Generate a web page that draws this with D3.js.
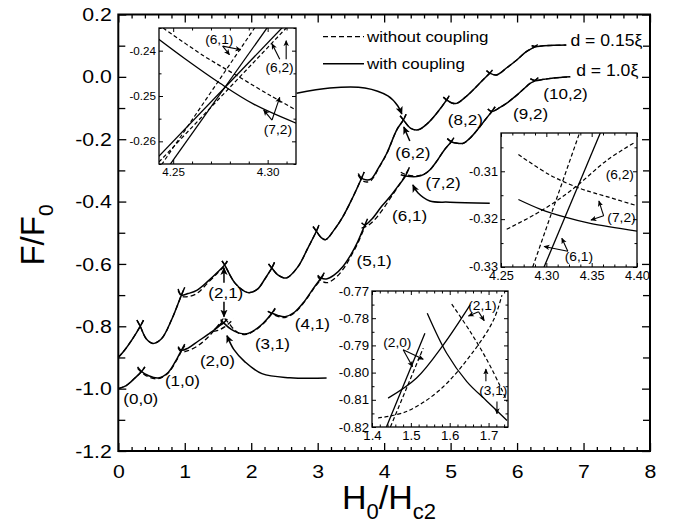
<!DOCTYPE html>
<html><head><meta charset="utf-8">
<script src="https://cdn.jsdelivr.net/npm/d3@7"></script>
<style>
body{margin:0;background:#fff;}
svg text{font-family:"Liberation Sans",Arial,Helvetica,sans-serif;fill:#000;}
</style></head>
<body><svg id="chart" width="673" height="525"></svg>
<script>
// ---------- main panel: free energy F/F0 versus H0/Hc2 ----------
const xTicks = [0, 1, 2, 3, 4, 5, 6, 7, 8];
const yTicks = [0.2, 0.0, -0.2, -0.4, -0.6, -0.8, -1.0, -1.2];

// d = 0.15 xi, with coupling: one array per vortex-state branch
const thinWith = [
  [[0,-0.9],[0.1,-0.875],[0.2,-0.845],[0.33,-0.80],[0.38,-0.78]],
  [[0.28,-0.78],[0.33,-0.80],[0.42,-0.84],[0.52,-0.855],[0.65,-0.84],[0.8,-0.78],[0.95,-0.70],[1.0,-0.675]],
  [[0.9,-0.68],[0.95,-0.70],[1.05,-0.695],[1.18,-0.685],[1.35,-0.655],[1.5,-0.625],[1.6,-0.603],[1.64,-0.59]],
  [[1.56,-0.59],[1.6,-0.603],[1.75,-0.66],[1.9,-0.688],[1.98,-0.692],[2.1,-0.68],[2.2,-0.65],[2.31,-0.613],[2.35,-0.595]],
  [[2.26,-0.60],[2.31,-0.613],[2.4,-0.635],[2.53,-0.645],[2.7,-0.61],[2.85,-0.55],[2.98,-0.495],[3.02,-0.475]],
  [[2.93,-0.48],[2.98,-0.495],[3.05,-0.515],[3.12,-0.522],[3.25,-0.49],[3.38,-0.448],[3.52,-0.39],[3.66,-0.325],[3.7,-0.305]],
  [[3.61,-0.31],[3.66,-0.325],[3.72,-0.33],[3.8,-0.328],[3.92,-0.29],[4.04,-0.245],[4.19,-0.17],[4.29,-0.138],[4.33,-0.12]],
  [[4.24,-0.125],[4.29,-0.138],[4.4,-0.165],[4.51,-0.17],[4.65,-0.15],[4.79,-0.117],[4.94,-0.074],[4.98,-0.06]],
  [[4.89,-0.065],[4.94,-0.074],[5.02,-0.084],[5.09,-0.085],[5.25,-0.06],[5.39,-0.031],[5.5,-0.007],[5.59,0.012],[5.63,0.022]],
  [[5.54,0.02],[5.59,0.012],[5.69,0.006],[5.85,0.03],[6.0,0.055],[6.14,0.081],[6.27,0.097],[6.31,0.104]],
  [[6.22,0.10],[6.27,0.097],[6.4,0.10],[6.55,0.101],[6.74,0.102]]
];
// d = 0.15 xi, without coupling
const thinWithout = [
  [[0,-0.9],[0.1,-0.875],[0.2,-0.845],[0.33,-0.80],[0.38,-0.78]],
  [[0.28,-0.78],[0.33,-0.80],[0.42,-0.84],[0.52,-0.855],[0.65,-0.84],[0.8,-0.78],[0.95,-0.70],[1.0,-0.675]],
  [[0.9,-0.685],[0.95,-0.703],[1.05,-0.705],[1.18,-0.695],[1.35,-0.66],[1.5,-0.628],[1.6,-0.605],[1.64,-0.592]],
  [[1.56,-0.59],[1.6,-0.603],[1.75,-0.66],[1.9,-0.688],[1.98,-0.692],[2.1,-0.68],[2.2,-0.65],[2.31,-0.613],[2.35,-0.595]],
  [[2.26,-0.60],[2.31,-0.613],[2.4,-0.635],[2.53,-0.645],[2.7,-0.61],[2.85,-0.55],[2.98,-0.495],[3.02,-0.475]],
  [[2.93,-0.48],[2.98,-0.495],[3.05,-0.515],[3.12,-0.522],[3.25,-0.49],[3.38,-0.448],[3.52,-0.39],[3.66,-0.325],[3.7,-0.305]],
  [[3.61,-0.315],[3.66,-0.33],[3.72,-0.337],[3.8,-0.333],[3.92,-0.292],[4.04,-0.246],[4.19,-0.17],[4.29,-0.138],[4.33,-0.12]],
  [[4.24,-0.125],[4.29,-0.138],[4.4,-0.165],[4.51,-0.17],[4.65,-0.15],[4.79,-0.117],[4.94,-0.074],[4.98,-0.06]],
  [[4.89,-0.065],[4.94,-0.074],[5.02,-0.084],[5.09,-0.085],[5.25,-0.06],[5.39,-0.031],[5.5,-0.007],[5.59,0.012],[5.63,0.022]],
  [[5.54,0.02],[5.59,0.012],[5.69,0.006],[5.85,0.03],[6.0,0.055],[6.14,0.081],[6.27,0.097],[6.31,0.104]],
  [[6.22,0.10],[6.27,0.097],[6.4,0.10],[6.55,0.101],[6.74,0.102]]
];
// d = 1.0 xi, with coupling
const thickWith = [
  [[0,-1.0],[0.12,-0.99],[0.25,-0.966],[0.35,-0.945],[0.4,-0.93]],
  [[0.29,-0.93],[0.35,-0.945],[0.45,-0.958],[0.6,-0.966],[0.75,-0.948],[0.88,-0.905],[0.95,-0.877],[1.0,-0.857]],
  [[0.9,-0.865],[0.95,-0.877],[1.05,-0.87],[1.2,-0.848],[1.35,-0.826],[1.51,-0.80],[1.56,-0.787]],
  [[1.45,-0.81],[1.51,-0.80],[1.585,-0.789],[1.64,-0.777]],
  [[1.54,-0.778],[1.585,-0.789],[1.7,-0.81],[1.82,-0.822],[1.93,-0.824],[2.05,-0.812],[2.18,-0.79],[2.31,-0.758],[2.36,-0.742]],
  [[2.25,-0.752],[2.31,-0.758],[2.4,-0.765],[2.51,-0.769],[2.65,-0.755],[2.8,-0.72],[2.93,-0.68],[3.05,-0.645],[3.1,-0.628]],
  [[3.0,-0.636],[3.05,-0.645],[3.13,-0.648],[3.25,-0.635],[3.38,-0.608],[3.5,-0.57],[3.6,-0.53],[3.71,-0.475],[3.75,-0.455]],
  [[3.66,-0.468],[3.71,-0.475],[3.82,-0.455],[3.96,-0.416],[4.09,-0.384],[4.2,-0.353],[4.32,-0.318],[4.38,-0.29]],
  [[4.25,-0.314],[4.32,-0.318],[4.49,-0.32],[4.6,-0.313],[4.69,-0.298],[4.8,-0.268],[4.9,-0.236],[5.01,-0.208],[5.05,-0.195]],
  [[4.95,-0.198],[5.01,-0.208],[5.1,-0.213],[5.19,-0.213],[5.3,-0.195],[5.44,-0.16],[5.53,-0.135],[5.62,-0.111],[5.67,-0.096]],
  [[5.56,-0.103],[5.62,-0.111],[5.75,-0.097],[5.84,-0.085],[6.0,-0.058],[6.12,-0.035],[6.19,-0.022],[6.27,-0.012],[6.32,-0.002]],
  [[6.2,-0.006],[6.27,-0.012],[6.4,-0.008],[6.55,-0.004],[6.8,0.0]]
];
// d = 1.0 xi, without coupling
const thickWithout = [
  [[0,-1.0],[0.12,-0.99],[0.25,-0.966],[0.35,-0.945],[0.4,-0.93]],
  [[0.29,-0.935],[0.35,-0.948],[0.45,-0.962],[0.6,-0.968],[0.75,-0.95],[0.88,-0.908],[0.95,-0.88],[1.0,-0.862]],
  [[0.9,-0.87],[0.95,-0.882],[1.05,-0.878],[1.2,-0.862],[1.35,-0.835],[1.53,-0.79],[1.58,-0.775]],
  [[1.43,-0.816],[1.5,-0.813],[1.6,-0.802],[1.68,-0.788],[1.73,-0.776]],
  [[1.6,-0.775],[1.67,-0.792],[1.75,-0.812],[1.82,-0.823],[1.93,-0.826],[2.05,-0.814],[2.18,-0.792],[2.31,-0.76],[2.36,-0.744]],
  [[2.25,-0.752],[2.31,-0.76],[2.4,-0.768],[2.51,-0.772],[2.65,-0.757],[2.8,-0.722],[2.93,-0.682],[3.05,-0.648],[3.1,-0.63]],
  [[3.0,-0.64],[3.06,-0.655],[3.15,-0.66],[3.28,-0.642],[3.4,-0.612],[3.5,-0.575],[3.6,-0.535],[3.71,-0.48],[3.75,-0.46]],
  [[3.66,-0.485],[3.75,-0.478],[3.85,-0.46],[3.98,-0.425],[4.09,-0.39],[4.2,-0.355],[4.3,-0.322],[4.36,-0.298]],
  [[4.25,-0.306],[4.32,-0.313],[4.49,-0.318],[4.6,-0.312],[4.69,-0.298],[4.8,-0.268],[4.9,-0.236],[5.01,-0.208],[5.05,-0.195]],
  [[4.95,-0.198],[5.01,-0.208],[5.1,-0.213],[5.19,-0.213],[5.3,-0.195],[5.44,-0.16],[5.53,-0.135],[5.62,-0.111],[5.67,-0.096]],
  [[5.56,-0.103],[5.62,-0.111],[5.75,-0.097],[5.84,-0.085],[6.0,-0.058],[6.12,-0.035],[6.19,-0.022],[6.27,-0.012],[6.32,-0.002]],
  [[6.2,-0.006],[6.27,-0.012],[6.4,-0.008],[6.55,-0.004],[6.8,0.0]]
];

// state labels (L,N) and curve tags, placed in data units
const stateLabels = [
  {t:"(0,0)", x:0.338, y:-1.032}, {t:"(1,0)", x:0.965, y:-0.974},
  {t:"(2,0)", x:1.492, y:-0.910}, {t:"(2,1)", x:1.617, y:-0.691},
  {t:"(3,1)", x:2.319, y:-0.856}, {t:"(4,1)", x:2.920, y:-0.792},
  {t:"(5,1)", x:3.848, y:-0.589}, {t:"(6,1)", x:4.382, y:-0.445},
  {t:"(7,2)", x:4.887, y:-0.3385}, {t:"(6,2)", x:4.432, y:-0.2423},
  {t:"(8,2)", x:5.221, y:-0.1356}, {t:"(9,2)", x:6.203, y:-0.1167},
  {t:"(10,2)", x:6.729, y:-0.0526}
];
const curveTags = [{t:"d = 0.15ξ", x:7.344, y:0.118}, {t:"d = 1.0ξ", x:7.356, y:0.0196}];
const legendItems = [{t:"without coupling", dashed:true}, {t:"with coupling", dashed:false}];

// annotation arrows (main data units)
const mainArrows = [
  {pts:[[2.683,-0.0526],[3.183,-0.0356],[3.71,-0.0356],[4.056,-0.0612],[4.206,-0.0933],[4.266,-0.119]]},
  {pts:[[5.589,-0.405],[4.988,-0.402],[4.687,-0.398],[4.507,-0.372],[4.432,-0.3465]]},
  {pts:[[3.134,-0.966],[2.582,-0.965],[2.161,-0.952],[1.905,-0.914],[1.74,-0.875],[1.635,-0.83]]},
  {pts:[[4.386,-0.2055],[4.296,-0.1606]]},
  {pts:[[1.59,-0.6606],[1.59,-0.6125]]},
  {pts:[[1.59,-0.7215],[1.59,-0.7696]]}
];

// ---------- insets: zoomed views around the crossings ----------
const insetA = {
  frame:[159,296,28,164], xd:[4.2425,4.315], yd:[-0.265,-0.235],
  xt:[4.25,4.30], yt:[-0.24,-0.25,-0.26], xm:0.01, ym:0.005, xf:2, yf:2, fs:11,
  withC:[
    [[4.2424,-0.2375],[4.2566,-0.2419],[4.2748,-0.2472],[4.2926,-0.2518],[4.3151,-0.2560]],
    [[4.2482,-0.2652],[4.3000,-0.2348]],
    [[4.2424,-0.2633],[4.3080,-0.2348]]
  ],
  withoutC:[
    [[4.2447,-0.2350],[4.266,-0.2411],[4.2837,-0.2455],[4.3014,-0.2499],[4.3151,-0.2531]],
    [[4.2438,-0.2652],[4.2934,-0.2348]],
    [[4.2424,-0.2646],[4.3103,-0.2348]]
  ],
  labels:[{t:"(6,1)",x:4.2744,y:-0.2376},{t:"(6,2)",x:4.3063,y:-0.2437},{t:"(7,2)",x:4.3054,y:-0.2575}],
  arrows:[
    [[4.2762,-0.2390],[4.2798,-0.2409]],[[4.2762,-0.2390],[4.2858,-0.2398]],
    [[4.3064,-0.2419],[4.3023,-0.2385]],[[4.3098,-0.2419],[4.3098,-0.2378]],
    [[4.3023,-0.2553],[4.2979,-0.2531]],[[4.3023,-0.2553],[4.3064,-0.2503]]
  ]
};
const insetB = {
  frame:[501,637,133,267], xd:[4.25,4.40], yd:[-0.33,-0.302],
  xt:[4.25,4.30,4.35,4.40], yt:[-0.31,-0.32,-0.33], xm:0.0125, ym:0.005, xf:2, yf:2, fs:12,
  withC:[
    [[4.2692,-0.3159],[4.2931,-0.3179],[4.3208,-0.3196],[4.3484,-0.3209],[4.40,-0.3225]],
    [[4.2975,-0.33],[4.3595,-0.302]]
  ],
  withoutC:[
    [[4.2692,-0.3065],[4.3042,-0.3108],[4.3374,-0.3136],[4.3668,-0.3153],[4.40,-0.3172]],
    [[4.2563,-0.3221],[4.2931,-0.3184],[4.33,-0.3136],[4.3668,-0.3077],[4.3963,-0.3041]],
    [[4.285,-0.33],[4.3366,-0.302]]
  ],
  labels:[{t:"(6,2)",x:4.381,y:-0.3108},{t:"(7,2)",x:4.3829,y:-0.3197},{t:"(6,1)",x:4.3359,y:-0.3278}],
  arrows:[
    [[4.3632,-0.3193],[4.358,-0.3162]],[[4.3632,-0.3193],[4.3492,-0.3202]],
    [[4.3237,-0.3267],[4.2975,-0.3257]],[[4.3237,-0.3267],[4.3171,-0.324]]
  ]
};
const insetC = {
  frame:[372,508,291,427], xd:[1.4,1.75], yd:[-0.82,-0.77],
  xt:[1.4,1.5,1.6,1.7], yt:[-0.77,-0.78,-0.79,-0.80,-0.81,-0.82], xm:0.02, ym:0.005, xf:1, yf:2, fs:12.5,
  withC:[
    [[1.5422,-0.7782],[1.5922,-0.7929],[1.644,-0.8033],[1.6957,-0.8105],[1.7474,-0.8176]],
    [[1.4414,-0.8094],[1.5147,-0.8020],[1.5836,-0.7898],[1.6526,-0.7751]],
    [[1.4371,-0.82],[1.5362,-0.7855]]
  ],
  withoutC:[
    [[1.6052,-0.7748],[1.6526,-0.7849],[1.6957,-0.7953],[1.7302,-0.8051],[1.7474,-0.8106]],
    [[1.4155,-0.8167],[1.4888,-0.8143],[1.575,-0.8063],[1.6612,-0.7922],[1.713,-0.7806],[1.7345,-0.7715]],
    [[1.4474,-0.82],[1.5319,-0.791]]
  ],
  labels:[{t:"(2,0)",x:1.4651,y:-0.7889},{t:"(2,1)",x:1.684,y:-0.7754},{t:"(3,1)",x:1.7121,y:-0.8066}],
  arrows:[
    [[1.4802,-0.7916],[1.5043,-0.7978]],[[1.4802,-0.7916],[1.5319,-0.7951]],
    [[1.6741,-0.7776],[1.6483,-0.7792]],[[1.6741,-0.7776],[1.6888,-0.7809]],
    [[1.6931,-0.8032],[1.6931,-0.7987]],[[1.7216,-0.8106],[1.7216,-0.8151]]
  ]
};

// ---------- drawing ----------
const svg = d3.select("#chart");
const X = d3.scaleLinear().domain([0, 8]).range([118.3, 650]);
const Y = d3.scaleLinear().domain([-1.2, 0.2]).range([451, 14.5]);
const SX = 1.12; // horizontal widening of the typeface

const defs = svg.append("defs");
function marker(id, size) {
  defs.append("marker").attr("id", id).attr("viewBox", "0 0 10 10")
    .attr("refX", 9).attr("refY", 5).attr("markerUnits", "userSpaceOnUse")
    .attr("markerWidth", size).attr("markerHeight", size).attr("orient", "auto")
    .append("path").attr("d", "M0,0.5 L10,5 L0,9.5 L2.5,5 z").attr("fill", "#000");
}
marker("ahMain", 8);
marker("ahSmall", 6);

function label(g, px, py, str, size, sx, anchor) {
  return g.append("text")
    .attr("transform", `translate(${px},${py}) scale(${sx},1)`)
    .attr("text-anchor", anchor || "middle").attr("dy", "0.35em")
    .style("font-size", size + "px").text(str);
}

function minorTicks(domain, step, majors) {
  const out = [];
  const start = Math.ceil(domain[0] / step - 1e-6);
  for (let i = start; i * step <= domain[1] + 1e-9; i++) {
    const v = +(i * step).toFixed(6);
    if (!majors.some(m => Math.abs(m - v) < 1e-6)) out.push(v);
  }
  return out;
}

function styleAxis(g, sw) {
  g.select(".domain").remove();
  g.selectAll("line").attr("stroke", "#000").attr("stroke-width", sw);
}

// main axes (ticks point inward on all four sides)
const xMinor = minorTicks([0, 8], 0.2, xTicks);
const yMinor = minorTicks([-1.2, 0.2], 0.1, yTicks);
const fmt1 = d => d.toFixed(1);
const axes = svg.append("g");
const gB = axes.append("g").attr("transform", `translate(0,${Y(-1.2)})`)
  .call(d3.axisBottom(X).tickValues(xTicks).tickSize(-8).tickPadding(14).tickFormat(d => String(d)));
gB.append("g").call(d3.axisBottom(X).tickValues(xMinor).tickSize(-4).tickFormat(""));
const gT = axes.append("g").attr("transform", `translate(0,${Y(0.2)})`)
  .call(d3.axisTop(X).tickValues(xTicks).tickSize(-8).tickFormat(""));
gT.append("g").call(d3.axisTop(X).tickValues(xMinor).tickSize(-4).tickFormat(""));
const gL = axes.append("g").attr("transform", `translate(${X(0)},0)`)
  .call(d3.axisLeft(Y).tickValues(yTicks).tickSize(-8).tickPadding(6.5).tickFormat(fmt1));
gL.append("g").call(d3.axisLeft(Y).tickValues(yMinor).tickSize(-7).tickFormat(""));
const gR = axes.append("g").attr("transform", `translate(${X(8)},0)`)
  .call(d3.axisRight(Y).tickValues(yTicks).tickSize(-8).tickFormat(""));
gR.append("g").call(d3.axisRight(Y).tickValues(yMinor).tickSize(-7).tickFormat(""));
[gB, gT, gL, gR].forEach(g => { styleAxis(g, 1.3); g.selectAll("g g").each(function(){ styleAxis(d3.select(this), 1.3); }); });
axes.selectAll("text").style("font-size", "19px").attr("font-family", null);
gB.selectAll(".tick text").attr("transform", `scale(${SX},1)`);
gL.selectAll(".tick text").attr("transform", `scale(${SX},1)`).attr("x", -6.5 / SX);

svg.append("rect").attr("x", X(0)).attr("y", Y(0.2)).attr("width", X(8) - X(0)).attr("height", Y(-1.2) - Y(0.2))
  .attr("fill", "none").attr("stroke", "#000").attr("stroke-width", 2);

// main curves
const lineMain = d3.line().x(d => X(d[0])).y(d => Y(d[1])).curve(d3.curveCatmullRom.alpha(0.5));
function drawSet(g, set, line, dashed, sw, dash) {
  g.selectAll(null).data(set).join("path").attr("d", line)
    .attr("fill", "none").attr("stroke", "#000").attr("stroke-width", sw)
    .attr("stroke-dasharray", dashed ? dash : null);
}
const curves = svg.append("g");
drawSet(curves, thinWithout, lineMain, true, 1.3, "5,3");
drawSet(curves, thickWithout, lineMain, true, 1.3, "5,3");
drawSet(curves, thinWith, lineMain, false, 1.5);
drawSet(curves, thickWith, lineMain, false, 1.5);

// annotation arrows
const arrowLine = d3.line().x(d => X(d[0])).y(d => Y(d[1])).curve(d3.curveCatmullRom.alpha(0.5));
svg.append("g").selectAll("path").data(mainArrows).join("path")
  .attr("d", d => arrowLine(d.pts)).attr("fill", "none").attr("stroke", "#000")
  .attr("stroke-width", 1.5).attr("marker-end", "url(#ahMain)");

// labels
const lab = svg.append("g");
stateLabels.forEach(d => label(lab, X(d.x), Y(d.y), d.t, 15.5, 1.1));
curveTags.forEach(d => label(lab, X(d.x), Y(d.y), d.t, 16, 1.1));

// legend
const leg = svg.append("g");
legendItems.forEach((d, i) => {
  const yy = 36.6 + i * 27.2;
  leg.append("line").attr("x1", 323).attr("x2", 364).attr("y1", yy).attr("y2", yy)
    .attr("stroke", "#000").attr("stroke-width", 1.4).attr("stroke-dasharray", d.dashed ? "5,3" : null);
  label(leg, 367, yy, d.t, 15, 1.13, "start");
});

// insets
function drawInset(cfg, id) {
  const [x0, x1, y0, y1] = cfg.frame;
  const xs = d3.scaleLinear().domain(cfg.xd).range([x0, x1]);
  const ys = d3.scaleLinear().domain(cfg.yd).range([y1, y0]);
  const g = svg.append("g");
  g.append("rect").attr("x", x0).attr("y", y0).attr("width", x1 - x0).attr("height", y1 - y0).attr("fill", "#fff");
  defs.append("clipPath").attr("id", id).append("rect")
    .attr("x", x0).attr("y", y0).attr("width", x1 - x0).attr("height", y1 - y0);
  const line = d3.line().x(d => xs(d[0])).y(d => ys(d[1])).curve(d3.curveCatmullRom.alpha(0.5));
  const cg = g.append("g").attr("clip-path", `url(#${id})`);
  drawSet(cg, cfg.withoutC, line, true, 1.2, "4,2.5");
  drawSet(cg, cfg.withC, line, false, 1.3);
  const xmin = minorTicks(cfg.xd, cfg.xm, cfg.xt);
  const ymin = minorTicks(cfg.yd, cfg.ym, cfg.yt);
  const b = g.append("g").attr("transform", `translate(0,${y1})`)
    .call(d3.axisBottom(xs).tickValues(cfg.xt).tickSize(-4).tickPadding(4.5).tickFormat(d => d.toFixed(cfg.xf)));
  b.append("g").call(d3.axisBottom(xs).tickValues(xmin).tickSize(-2.5).tickFormat(""));
  const t = g.append("g").attr("transform", `translate(0,${y0})`)
    .call(d3.axisTop(xs).tickValues(cfg.xt).tickSize(-4).tickFormat(""));
  t.append("g").call(d3.axisTop(xs).tickValues(xmin).tickSize(-2.5).tickFormat(""));
  const l = g.append("g").attr("transform", `translate(${x0},0)`)
    .call(d3.axisLeft(ys).tickValues(cfg.yt).tickSize(-4).tickPadding(3).tickFormat(d => d.toFixed(cfg.yf)));
  l.append("g").call(d3.axisLeft(ys).tickValues(ymin).tickSize(-2.5).tickFormat(""));
  const r = g.append("g").attr("transform", `translate(${x1},0)`)
    .call(d3.axisRight(ys).tickValues(cfg.yt).tickSize(-4).tickFormat(""));
  r.append("g").call(d3.axisRight(ys).tickValues(ymin).tickSize(-2.5).tickFormat(""));
  [b, t, l, r].forEach(a => { styleAxis(a, 1); a.selectAll("g g").each(function(){ styleAxis(d3.select(this), 1); }); });
  g.selectAll(".tick text").style("font-size", cfg.fs + "px").attr("font-family", null);
  b.selectAll(".tick text").attr("transform", "scale(1.06,1)");
  l.selectAll(".tick text").attr("transform", "scale(1.06,1)").attr("x", -3 / 1.06);
  g.append("rect").attr("x", x0).attr("y", y0).attr("width", x1 - x0).attr("height", y1 - y0)
    .attr("fill", "none").attr("stroke", "#000").attr("stroke-width", 1.3);
  cfg.labels.forEach(d => label(g, xs(d.x), ys(d.y), d.t, 12.5, 1.1));
  const al = d3.line().x(d => xs(d[0])).y(d => ys(d[1]));
  g.append("g").selectAll("path").data(cfg.arrows).join("path").attr("d", al)
    .attr("fill", "none").attr("stroke", "#000").attr("stroke-width", 1.1).attr("marker-end", "url(#ahSmall)");
}
drawInset(insetA, "clipA");
drawInset(insetB, "clipB");
drawInset(insetC, "clipC");

// axis titles
const yTitle = svg.append("text").attr("transform", "translate(44,235) rotate(-90)")
  .attr("text-anchor", "middle").style("font-size", "33px");
yTitle.append("tspan").text("F/F");
yTitle.append("tspan").attr("dy", 9).style("font-size", "21px").text("0");

const xTitle = svg.append("text").attr("x", 389).attr("y", 509)
  .attr("text-anchor", "middle").style("font-size", "34px");
xTitle.append("tspan").text("H");
xTitle.append("tspan").attr("dy", 10).style("font-size", "22px").text("0");
xTitle.append("tspan").attr("dy", -10).text("/H");
xTitle.append("tspan").attr("dy", 10).style("font-size", "22px").text("c2");
</script>
</body></html>
